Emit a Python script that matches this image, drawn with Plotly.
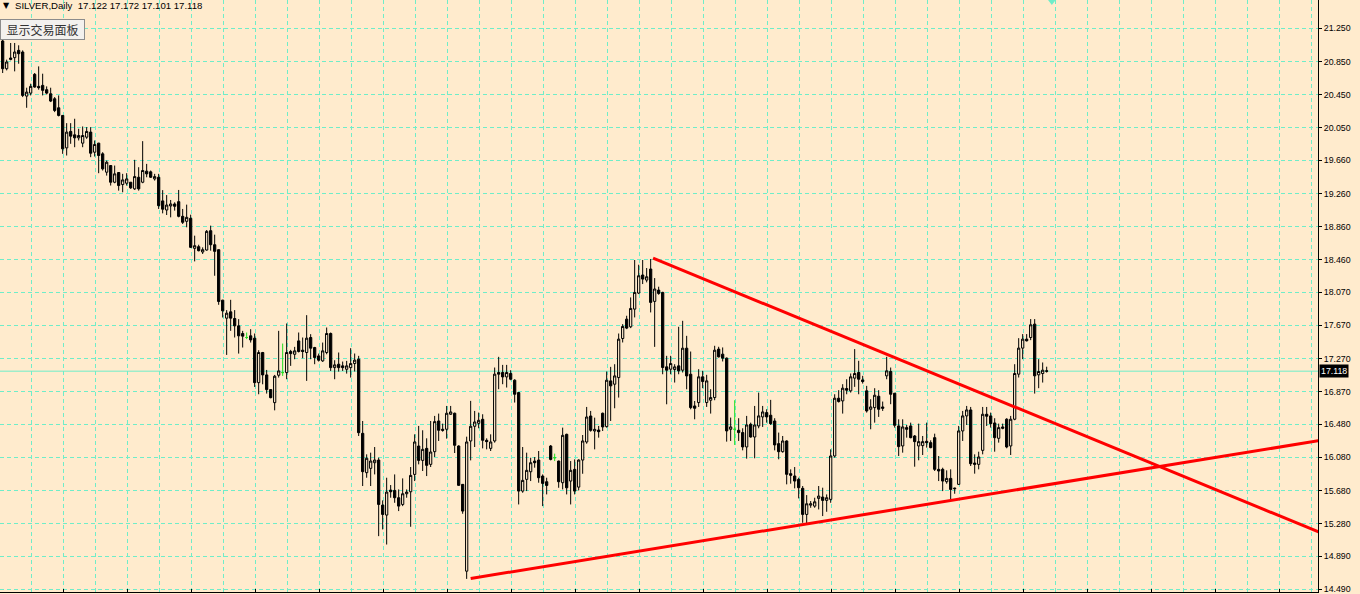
import plotly.graph_objects as go

# ---------------- data (SILVER, Daily) ----------------
opens = [21.097,20.763,20.892,20.896,20.984,20.964,20.433,20.469,20.695,20.550,
20.562,20.510,20.461,20.401,20.292,20.200,19.809,20.007,19.966,19.930,
19.866,19.938,19.999,19.757,19.866,19.737,19.516,19.596,19.395,19.512,
19.367,19.383,19.395,19.315,19.455,19.395,19.528,19.520,19.435,19.455,
19.170,19.060,19.109,19.133,19.161,18.984,18.924,18.960,18.598,18.618,
18.554,18.578,18.811,18.642,18.582,17.974,17.757,17.833,17.753,17.664,
17.572,17.524,17.544,17.516,16.980,17.343,17.073,16.896,16.739,17.069,
17.101,17.101,17.355,17.322,17.483,17.371,17.343,17.524,17.403,17.302,
17.242,17.343,17.572,17.161,17.202,17.182,17.141,17.161,17.210,17.263,
16.369,15.895,15.947,16.015,16.047,15.504,15.384,15.685,15.681,15.593,
15.512,15.641,15.665,15.874,16.216,16.043,16.188,15.995,16.148,16.518,
16.418,16.418,16.599,16.611,16.216,15.754,14.708,16.277,16.454,16.490,
16.538,16.285,16.188,16.277,17.102,17.102,17.049,17.090,17.009,16.860,
15.673,15.814,15.906,16.035,16.047,15.854,15.786,16.216,16.075,16.035,
15.774,16.357,15.794,15.935,15.721,16.047,16.265,16.578,16.397,16.409,
16.611,16.450,17.001,16.961,17.041,17.512,17.745,17.653,17.866,18.059,
18.277,18.216,18.349,17.959,18.095,18.067,17.170,17.142,17.138,17.182,
17.130,17.395,17.081,16.699,16.740,17.050,16.740,16.768,16.800,17.384,
17.323,17.275,16.418,16.418,16.406,16.378,16.205,16.478,16.325,16.458,
16.567,16.619,16.587,16.518,16.245,16.148,16.277,15.883,15.855,15.814,
15.706,15.392,15.504,15.492,15.585,15.601,15.561,15.573,16.096,16.792,
16.760,16.909,16.881,17.034,17.102,17.013,16.881,16.659,16.679,16.816,
16.687,17.062,17.114,16.852,16.458,16.217,16.438,16.458,16.337,16.217,
16.221,16.273,16.257,16.317,15.935,15.935,15.786,15.826,15.710,15.754,
16.398,16.579,16.651,16.011,15.995,16.164,16.599,16.579,16.494,16.309,
16.446,16.539,16.217,16.539,17.082,17.396,17.504,17.524,17.685,17.074,
17.090,17.122]

highs = [21.166,20.872,21.073,21.073,21.045,20.984,20.534,20.582,20.711,20.791,
20.703,20.550,20.534,20.421,20.441,20.204,20.107,20.107,20.160,20.039,
20.067,20.059,20.059,19.898,19.870,19.757,19.656,19.600,19.596,19.516,
19.496,19.504,19.398,19.665,19.576,19.890,19.616,19.536,19.496,19.496,
19.300,19.240,19.181,19.153,19.302,19.073,19.125,19.004,18.751,18.642,
18.610,18.819,18.872,18.763,18.585,17.978,17.854,17.978,17.854,17.745,
17.604,17.584,17.624,17.572,17.371,17.350,17.133,16.900,17.073,17.604,
17.451,17.693,17.375,17.411,17.584,17.524,17.793,17.564,17.411,17.330,
17.463,17.644,17.584,17.250,17.343,17.234,17.242,17.395,17.331,17.303,
16.518,16.116,16.136,16.204,16.076,15.561,15.834,15.746,15.874,15.693,
15.826,15.693,15.963,16.357,16.458,16.406,16.309,16.518,16.579,16.607,
16.486,16.699,16.699,16.619,16.225,15.758,16.329,16.760,16.639,16.619,
16.599,16.309,16.357,17.162,17.291,17.194,17.194,17.130,17.021,16.864,
16.204,16.136,16.075,16.083,16.156,15.874,15.834,16.228,16.124,16.040,
16.438,16.365,16.035,16.055,16.055,16.349,16.687,16.639,16.558,16.458,
16.619,17.114,17.170,17.202,17.572,17.685,17.786,18.007,18.458,18.401,
18.458,18.361,18.470,18.240,18.136,18.075,17.303,17.303,17.202,17.653,
17.725,17.544,17.355,16.759,17.142,17.122,17.074,16.901,17.424,17.412,
17.404,17.283,16.559,16.768,16.551,16.430,16.579,16.498,16.699,16.860,
16.699,16.659,16.772,16.551,16.378,16.337,16.285,15.935,15.963,15.834,
15.734,15.625,15.553,15.593,15.734,15.714,15.633,16.176,16.840,16.889,
16.961,17.021,17.090,17.384,17.243,17.062,16.941,16.780,16.913,16.889,
16.752,17.291,17.162,16.856,16.538,16.538,16.470,16.498,16.349,16.486,
16.337,16.498,16.285,16.365,16.096,15.955,15.923,15.935,15.714,16.458,
16.639,16.699,16.687,16.116,16.148,16.687,16.687,16.619,16.551,16.486,
16.486,16.551,16.579,17.202,17.516,17.565,17.565,17.746,17.746,17.263,
17.223,17.172]

lows = [20.711,20.743,20.864,20.731,20.823,20.421,20.292,20.441,20.534,20.510,
20.441,20.453,20.361,20.240,20.188,19.737,19.717,19.858,19.817,19.898,
19.817,19.918,19.697,19.705,19.504,19.536,19.475,19.355,19.383,19.294,
19.274,19.355,19.315,19.302,19.294,19.383,19.455,19.447,19.415,19.073,
19.020,19.000,18.972,19.053,18.972,18.892,18.852,18.602,18.441,18.562,
18.530,18.570,18.570,18.268,17.918,17.765,17.314,17.604,17.524,17.330,
17.403,17.504,17.463,16.928,16.840,16.960,16.848,16.791,16.646,17.041,
17.061,17.021,17.182,17.262,17.343,17.274,17.001,17.262,17.202,17.234,
17.230,17.322,17.121,17.021,17.113,17.121,17.089,17.041,17.114,16.337,
15.734,15.834,15.734,15.874,15.130,15.211,15.029,15.593,15.532,15.432,
15.492,15.593,15.243,15.794,15.995,15.915,15.854,15.963,16.084,16.277,
16.389,16.305,16.591,16.132,15.738,15.400,14.615,16.043,16.204,16.430,
16.188,16.176,16.156,16.257,16.901,16.961,16.921,17.009,16.740,15.512,
15.653,15.673,15.794,15.955,15.774,15.492,15.633,16.043,16.035,15.713,
15.693,15.633,15.512,15.633,15.681,15.882,16.244,16.389,16.176,16.317,
16.397,16.438,16.518,16.671,16.800,17.464,17.625,17.637,17.766,18.047,
18.168,18.188,17.826,17.411,18.039,17.081,16.719,17.081,16.981,17.081,
17.102,16.900,16.659,16.538,16.687,16.913,16.687,16.607,16.768,17.283,
17.235,16.269,16.277,16.229,16.277,16.164,16.064,16.317,16.068,16.430,
16.446,16.498,16.470,16.164,16.056,16.136,15.754,15.762,15.706,15.585,
15.291,15.279,15.472,15.472,15.452,15.372,15.424,15.532,16.076,16.740,
16.607,16.840,16.860,16.929,16.840,16.969,16.619,16.418,16.498,16.567,
16.639,17.021,16.720,16.438,16.096,16.136,16.317,16.309,15.967,16.044,
16.108,16.197,16.189,15.915,15.794,15.673,15.762,15.573,15.641,15.746,
16.277,16.470,15.975,15.883,15.935,16.116,16.458,16.438,16.148,16.257,
16.418,16.189,16.108,16.527,17.042,17.263,17.476,17.492,16.848,16.913,
16.981,17.101]

closes = [20.763,20.844,20.876,20.964,20.944,20.441,20.481,20.550,20.542,20.534,
20.502,20.469,20.373,20.260,20.200,19.797,19.999,19.950,19.930,19.958,
19.958,20.007,19.745,19.850,19.717,19.556,19.636,19.395,19.496,19.355,
19.423,19.435,19.327,19.463,19.315,19.536,19.496,19.455,19.463,19.113,
19.070,19.120,19.133,19.105,18.984,18.912,18.972,18.610,18.630,18.570,
18.582,18.803,18.642,18.562,17.958,17.845,17.817,17.757,17.664,17.544,
17.540,17.524,17.495,16.980,17.343,17.073,16.896,16.799,17.057,17.121,
17.101,17.343,17.330,17.363,17.355,17.355,17.516,17.395,17.282,17.250,
17.363,17.572,17.161,17.194,17.161,17.161,17.182,17.210,17.251,16.377,
15.907,16.068,16.035,16.047,15.512,15.392,15.661,15.665,15.593,15.492,
15.641,15.661,15.862,16.265,16.043,16.176,15.983,16.144,16.510,16.406,
16.406,16.611,16.627,16.225,15.742,15.432,16.265,16.454,16.506,16.526,
16.285,16.269,16.265,17.082,17.082,17.049,17.102,17.021,16.840,15.673,
15.802,15.923,16.015,16.015,15.834,15.766,15.741,16.055,16.075,15.786,
16.345,15.713,15.923,15.673,16.047,16.277,16.566,16.405,16.417,16.389,
16.446,17.009,16.941,17.061,17.504,17.657,17.637,17.874,18.067,18.268,
18.228,18.256,17.947,18.108,18.055,17.162,17.130,17.210,17.170,17.122,
17.395,17.061,16.679,16.671,17.050,16.993,17.001,16.800,17.371,17.291,
17.275,16.398,16.446,16.418,16.378,16.205,16.470,16.325,16.470,16.579,
16.627,16.567,16.486,16.229,16.148,16.277,15.875,15.863,15.794,15.714,
15.392,15.520,15.520,15.544,15.613,15.561,15.593,16.096,16.792,16.752,
16.913,16.889,17.050,17.090,17.021,16.993,16.639,16.687,16.828,16.659,
16.671,17.122,16.840,16.466,16.209,16.446,16.418,16.317,16.269,16.269,
16.269,16.257,16.197,15.935,15.915,15.794,15.826,15.693,15.702,16.398,
16.579,16.651,16.003,15.995,16.084,16.599,16.575,16.486,16.317,16.438,
16.430,16.205,16.539,17.090,17.396,17.504,17.484,17.677,17.062,17.114,
17.130,17.118]

price_ticks = [21.250, 20.850, 20.450, 20.050, 19.660, 19.260, 18.860, 18.460, 18.070,
               17.670, 17.270, 16.870, 16.480, 16.080, 15.680, 15.280, 14.890, 14.490]

last_price = 17.118
header = "SILVER,Daily  17.122 17.172 17.101 17.118"
panel_label = "显示交易面板"

# trend lines (bar index, price)
support_idx = [117, 329]
support_price = [14.62, 16.28]
resist_idx = [162.6, 329]
resist_price = [18.48, 15.18]

# chart-shift marker position (bar index)
shift_marker_idx = 262.3

# ---------------- style ----------------
BG = "#FFEBCD"
GRID = "#6FEDC9"
FONT = "Liberation Sans"
Y_RANGE = [14.457, 21.591]

idx = list(range(len(opens)))
reg = [i for i in idx if opens[i] != closes[i]]
doji = [i for i in idx if opens[i] == closes[i]]

fig = go.Figure()
fig.add_trace(go.Candlestick(
    x=reg, open=[opens[i] for i in reg], high=[highs[i] for i in reg],
    low=[lows[i] for i in reg], close=[closes[i] for i in reg],
    increasing=dict(line=dict(color="black", width=1), fillcolor=BG),
    decreasing=dict(line=dict(color="black", width=1), fillcolor="black"),
    whiskerwidth=0, showlegend=False, hoverinfo="skip"))
fig.add_trace(go.Candlestick(
    x=doji, open=[opens[i] for i in doji], high=[highs[i] for i in doji],
    low=[lows[i] for i in doji], close=[closes[i] for i in doji],
    increasing=dict(line=dict(color="#22DD22", width=1), fillcolor="#22DD22"),
    decreasing=dict(line=dict(color="#22DD22", width=1), fillcolor="#22DD22"),
    whiskerwidth=0, showlegend=False, hoverinfo="skip"))

fig.add_trace(go.Scatter(x=support_idx, y=support_price, mode="lines",
                         line=dict(color="#FF0000", width=3), showlegend=False, hoverinfo="skip"))
fig.add_trace(go.Scatter(x=resist_idx, y=resist_price, mode="lines",
                         line=dict(color="#FF0000", width=3), showlegend=False, hoverinfo="skip"))

# chart shift marker at the top edge
fig.add_trace(go.Scatter(x=[shift_marker_idx], y=[Y_RANGE[1]], mode="markers",
                         marker=dict(symbol="triangle-down", size=10, color=GRID),
                         showlegend=False, hoverinfo="skip"))

# current price line
fig.add_shape(type="line", xref="paper", x0=0, x1=1, yref="y", y0=last_price, y1=last_price,
              line=dict(color=GRID, width=1), layer="below")

fig.update_layout(
    width=1360, height=594,
    margin=dict(l=0, r=42, t=0, b=2, autoexpand=False),
    paper_bgcolor=BG, plot_bgcolor=BG,
    font=dict(family=FONT, size=9, color="black"),
    boxgap=0.2,
    xaxis=dict(
        range=[-0.667, 328.83], rangeslider=dict(visible=False),
        showticklabels=False, zeroline=False,
        tick0=15.2, dtick=16, ticks="inside", ticklen=3, tickcolor="black",
        showgrid=True, gridcolor=GRID, griddash="4px,3px", gridwidth=1,
        minor=dict(tick0=7.2, dtick=8, showgrid=True, gridcolor=GRID,
                   griddash="4px,3px", gridwidth=1, ticks=""),
        showline=True, linecolor="black", linewidth=1,
    ),
    yaxis=dict(
        side="right", range=Y_RANGE, zeroline=False,
        tickmode="array", tickvals=price_ticks,
        ticktext=[f"{v:.3f}" for v in price_ticks],
        ticks="outside", ticklen=3, tickcolor="black",
        ticklabeloverflow="allow",
        tickfont=dict(family=FONT, size=8.8, color="black"),
        showgrid=True, gridcolor=GRID, griddash="4px,3px", gridwidth=1,
        showline=True, linecolor="black", linewidth=1,
    ),
)

# header text
fig.add_annotation(xref="paper", yref="paper", x=0, y=1, xanchor="left", yanchor="top",
                   xshift=1, yshift=1, text="▼", showarrow=False,
                   font=dict(family="DejaVu Sans", size=8, color="black"))
fig.add_annotation(xref="paper", yref="paper", x=0, y=1, xanchor="left", yanchor="top",
                   xshift=13, yshift=2, text=header.replace("  ", "&nbsp;&nbsp;"), showarrow=False,
                   font=dict(family=FONT, size=9.6, color="black"))
# panel button
fig.add_annotation(xref="paper", yref="paper", x=0, y=1, xanchor="left", yanchor="top",
                   xshift=0, yshift=-19, text=panel_label, showarrow=False,
                   width=79, height=15, align="center",
                   bgcolor="#F3F1EE", bordercolor="#8C8C8C", borderwidth=1, borderpad=2,
                   font=dict(family="Noto Sans CJK SC", size=12, color="#333333"))
# current price label
fig.add_annotation(xref="paper", yref="y", x=1, y=last_price, xanchor="left", yanchor="middle",
                   xshift=1, text=f"{last_price:.3f}", showarrow=False,
                   bgcolor="black", borderpad=1,
                   font=dict(family=FONT, size=8.8, color="white"))

fig.write_html("out.html", config={"displayModeBar": False, "staticPlot": True},
               post_script="document.body.style.margin='0';document.body.style.overflow='hidden';")
